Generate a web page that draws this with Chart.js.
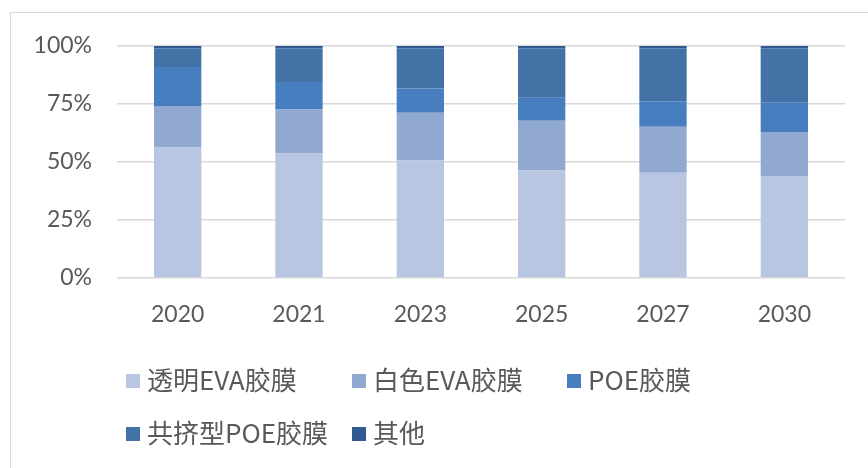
<!DOCTYPE html>
<html><head><meta charset="utf-8">
<script src="https://cdn.jsdelivr.net/npm/chart.js@4"></script>
<style>html,body{margin:0;padding:0;background:#fff;}#wrap{width:868px;height:468px;position:relative;}</style>
</head><body><div id="wrap"><canvas id="c" width="868" height="468"></canvas></div>
<script>
const categories = ['2020','2021','2023','2025','2027','2030'];
const seriesNames = ['透明EVA胶膜','白色EVA胶膜','POE胶膜','共挤型POE胶膜','其他'];
const transparentEVA = [56.3, 53.7, 50.6, 46.3, 45.4, 44.0];
const whiteEVA       = [17.8, 18.9, 20.6, 21.5, 19.8, 18.9];
const poe            = [16.9, 11.9, 10.5,  9.9, 11.0, 12.6];
const coPOE          = [ 8.0, 14.5, 17.3, 21.3, 22.8, 23.5];
const others         = [ 1.0,  1.0,  1.0,  1.0,  1.0,  1.0];
const yTicks = [0, 25, 50, 75, 100];

const colors = ['#B8C6E1','#91A8D0','#467EC0','#4272A6','#325A91'];
const seriesValues = [transparentEVA, whiteEVA, poe, coPOE, others];
const FONT = 'Lato, "Noto Sans CJK SC", sans-serif';

const legendPlugin = {
  id: 'excelLegend',
  afterDraw(chart) {
    const ctx = chart.ctx;
    const pos = [[126,380],[352,380],[567,380],[126,433],[352,433]];
    ctx.save();
    ctx.font = '26px "Noto Sans CJK SC", sans-serif';
    ctx.textBaseline = 'middle';
    chart.data.datasets.forEach((ds, i) => {
      const [x, y] = pos[i];
      ctx.fillStyle = ds.backgroundColor;
      ctx.fillRect(x, y - 6, 14, 14);
      ctx.fillStyle = '#595959';
      ctx.fillText(ds.label, x + 21, y);
    });
    ctx.restore();
  }
};
const framePlugin = {
  id: 'frame',
  beforeDraw(chart) {
    const ctx = chart.ctx;
    ctx.save();
    ctx.fillStyle = '#fff';
    ctx.fillRect(0, 0, chart.width, chart.height);
    ctx.strokeStyle = '#D9D9D9';
    ctx.lineWidth = 1;
    ctx.strokeRect(10.5, 12.5, 900, 500);
    ctx.restore();
  }
};

new Chart(document.getElementById('c'), {
  type: 'bar',
  data: {
    labels: categories,
    datasets: seriesNames.map((n, i) => ({
      label: n,
      data: seriesValues[i],
      backgroundColor: colors[i],
      borderWidth: 0,
      barPercentage: 0.39,
      categoryPercentage: 1.0
    }))
  },
  options: {
    responsive: false,
    animation: false,
    devicePixelRatio: 1,
    layout: { padding: { left: 0, right: 23, top: 46, bottom: 140 } },
    plugins: { legend: { display: false }, tooltip: { enabled: false } },
    scales: {
      x: {
        stacked: true,
        grid: { display: false, drawTicks: false },
        border: { display: false },
        ticks: { color: '#595959', font: { family: FONT, size: 23 }, padding: 23 },
        afterFit(s) { s.height = 50; }
      },
      y: {
        stacked: true,
        min: 0, max: 100,
        afterBuildTicks(s) { s.ticks = yTicks.map(v => ({ value: v })); },
        grid: { color: '#D9D9D9', lineWidth: 1.5, drawTicks: false },
        border: { display: false },
        ticks: { color: '#595959', font: { family: FONT, size: 23 }, padding: 25, callback: v => v + '%' },
        afterFit(s) { s.width = 117; }
      }
    }
  },
  plugins: [framePlugin, legendPlugin]
});
</script></body></html>
